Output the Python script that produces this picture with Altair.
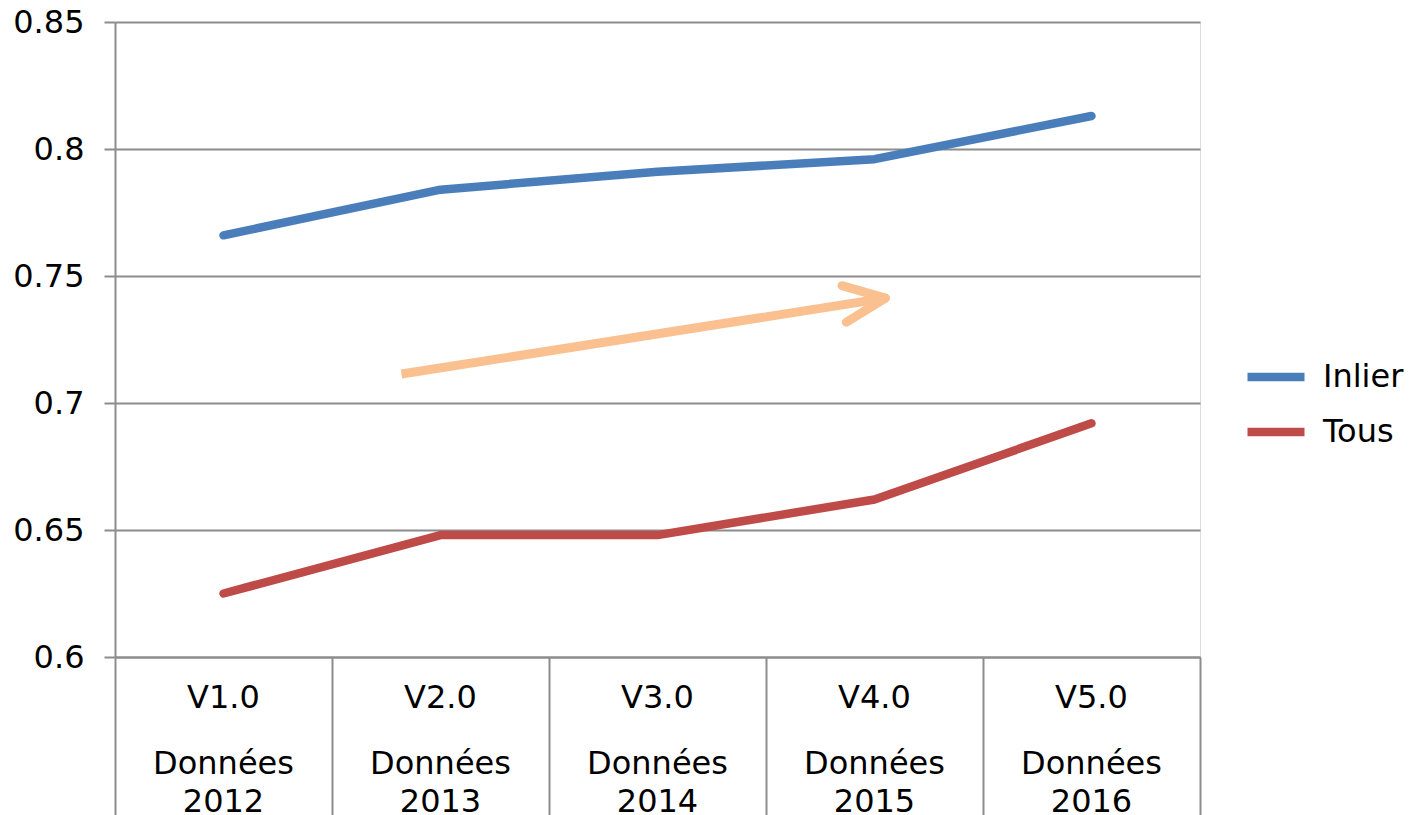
import altair as alt
import pandas as pd

versions = ["V1.0", "V2.0", "V3.0", "V4.0", "V5.0"]
years = ["Données\n2012", "Données\n2013", "Données\n2014", "Données\n2015", "Données\n2016"]
inlier = [0.766, 0.784, 0.791, 0.796, 0.813]
tous = [0.625, 0.648, 0.648, 0.662, 0.692]
series_names = ["Inlier", "Tous"]
series_colors = ["#4A7EBB", "#BE4B48"]
y_ticks = [0.6, 0.65, 0.7, 0.75, 0.8, 0.85]

# annotation arrow (data units): shaft + two head strokes
arrow_seg = ["shaft", "shaft", "head1", "head1", "head2", "head2"]
arrow_x = [1.32, 3.55, 3.35, 3.55, 3.37, 3.55]
arrow_y = [0.7114, 0.7413, 0.7462, 0.7413, 0.7318, 0.7413]

FONT = "DejaVu Sans"
GRID = "#8C8C8C"
FS = 32

rows = []
for i, v in enumerate(versions):
    rows.append({"pos": i + 0.5, "value": inlier[i], "serie": "Inlier"})
    rows.append({"pos": i + 0.5, "value": tous[i], "serie": "Tous"})
df = pd.DataFrame(rows)

lab = pd.DataFrame({"pos": [i + 0.5 for i in range(len(versions))],
                    "version": versions, "year": years})

arr = pd.DataFrame({"seg": arrow_seg, "x": arrow_x, "y": arrow_y,
                    "o": list(range(len(arrow_x)))})

xscale = alt.Scale(domain=[0, 5], nice=False, zero=False)
yscale = alt.Scale(domain=[0.6, 0.85], nice=False, zero=False)

lines = alt.Chart(df).mark_line(strokeWidth=8.5, strokeCap="round", strokeJoin="round").encode(
    x=alt.X("pos:Q", scale=xscale,
            axis=alt.Axis(values=[0, 1, 2, 3, 4, 5], labels=False, title=None,
                          grid=False, tickSize=170, tickColor=GRID, tickWidth=2,
                          domainColor=GRID, domainWidth=2)),
    y=alt.Y("value:Q", scale=yscale,
            axis=alt.Axis(values=y_ticks, format=".2~f", title=None, grid=True,
                          gridColor=GRID, gridWidth=2, tickSize=11, tickColor=GRID,
                          tickWidth=2, domainColor=GRID, domainWidth=2,
                          labelFont=FONT, labelFontSize=FS, labelColor="black",
                          labelPadding=20)),
    color=alt.Color("serie:N", scale=alt.Scale(domain=series_names, range=series_colors),
                    legend=alt.Legend(title=None, orient="none", legendX=1128, legendY=322,
                                      symbolType="stroke", symbolStrokeWidth=8.5,
                                      symbolSize=3249, labelFont=FONT, labelFontSize=FS,
                                      labelColor="black", rowPadding=5, labelOffset=14)),
)

arrow_shaft = alt.Chart(arr).transform_filter(alt.datum.seg == "shaft").mark_line(
    strokeWidth=9, color="#FAC090", strokeCap="butt").encode(
    x=alt.X("x:Q", scale=xscale),
    y=alt.Y("y:Q", scale=yscale),
    order="o:Q",
)

arrow_head = alt.Chart(arr).transform_filter(alt.datum.seg != "shaft").mark_line(
    strokeWidth=9, color="#FAC090", strokeCap="round", strokeJoin="miter").encode(
    x=alt.X("x:Q", scale=xscale),
    y=alt.Y("y:Q", scale=yscale),
    detail="seg:N",
    order="o:Q",
)

ver_text = alt.Chart(lab).mark_text(font=FONT, fontSize=FS, color="black",
                                    baseline="middle", align="center").encode(
    x=alt.X("pos:Q", scale=xscale),
    y=alt.value(676),
    text="version:N",
)

year_text = alt.Chart(lab).mark_text(font=FONT, fontSize=FS, color="black",
                                     baseline="middle", align="center",
                                     lineBreak="\n", lineHeight=38).encode(
    x=alt.X("pos:Q", scale=xscale),
    y=alt.value(742),
    text="year:N",
)

chart = alt.layer(arrow_shaft, arrow_head, lines, ver_text, year_text).properties(
    width=1085, height=635,
    autosize=alt.AutoSizeParams(type="none"),
    padding={"left": 107, "top": 14, "right": 206, "bottom": 175},
).configure_view(stroke=None).configure(background="white")

chart.save("out.html", embed_options={"renderer": "svg", "actions": False})
